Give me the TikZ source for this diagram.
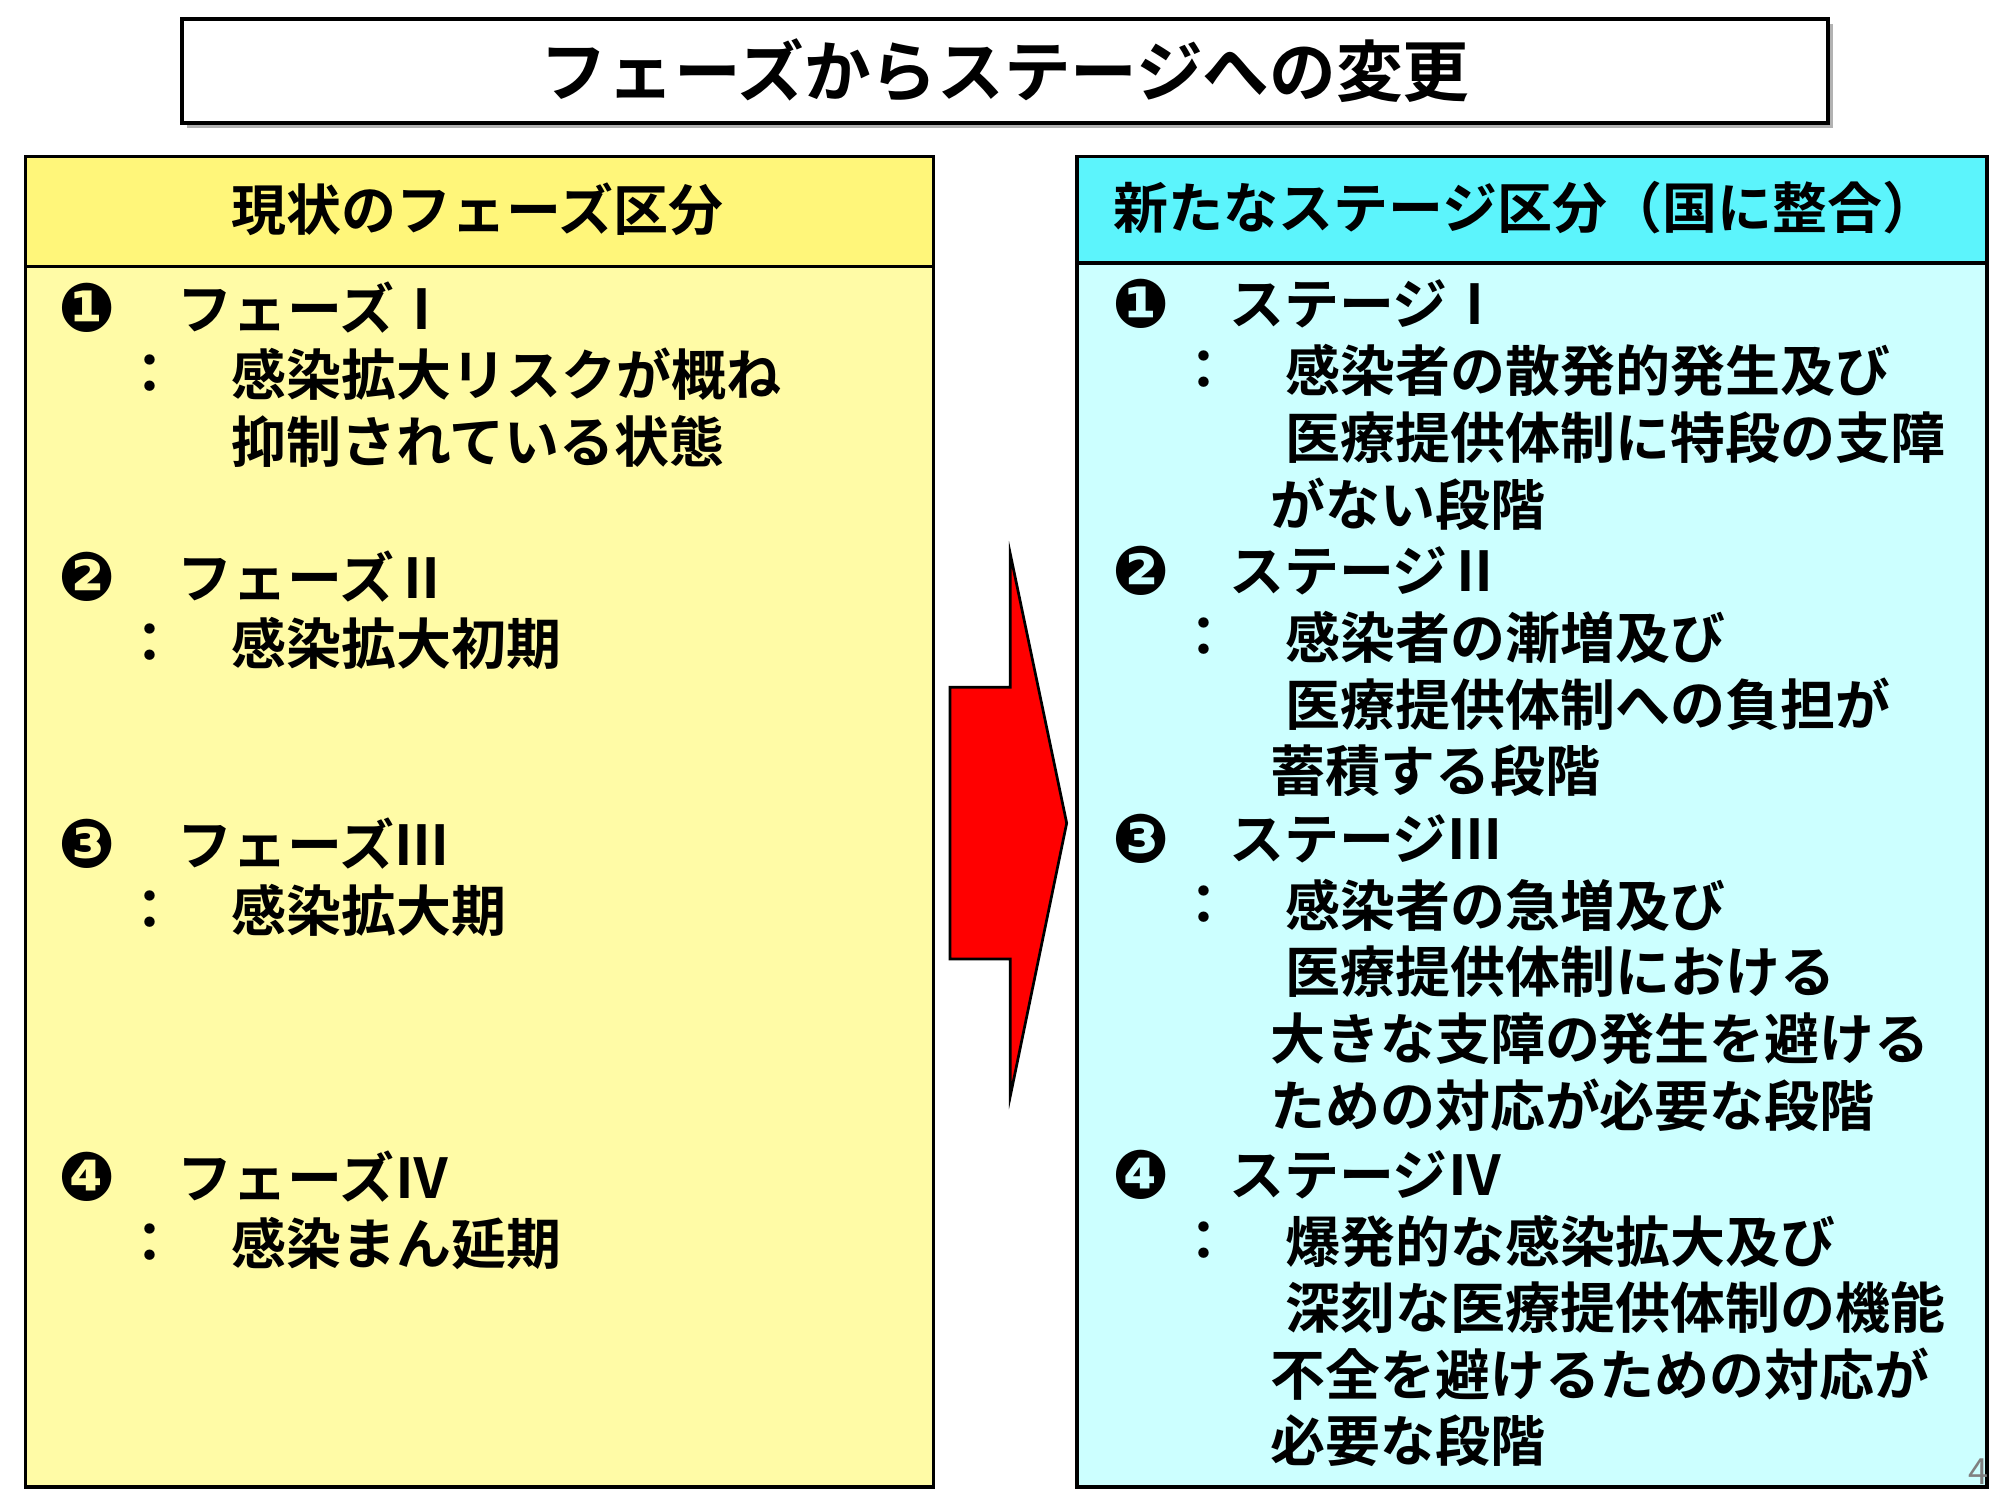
\documentclass[tikz,border=0pt]{standalone}
\usepackage{fontspec}
\setmainfont{Noto Sans CJK JP}[BoldFont={* Bold}]
\newfontfamily\numfont{DejaVu Sans}
\usetikzlibrary{positioning}
\definecolor{headyellow}{HTML}{FFF67A}
\definecolor{bodyyellow}{HTML}{FFFBA6}
\definecolor{headcyan}{HTML}{5CF4FC}
\definecolor{bodycyan}{HTML}{CCFFFF}
\begin{document}
\begin{tikzpicture}[x=1cm,y=1cm,
  txt/.style={anchor=west,inner sep=0pt,font=\fontsize{12.2}{13}\selectfont\bfseries},
  num/.style={anchor=center,inner sep=0pt,font=\fontsize{15}{16}\numfont\bfseries},
  panel/.style={draw=black,line width=0.8pt}]
\useasboundingbox (0,0) rectangle (15.6,-11.7);
% title
\fill[gray!60] (1.46,-0.19) rectangle (14.30,-1.0);
\node[panel,fill=white,minimum width=12.84cm,minimum height=0.81cm,inner sep=0pt] (title) at (7.84,-0.555)
  {\fontsize{14.8}{16}\selectfont\bfseries フェーズからステージへの変更};
% left panel
\fill[bodyyellow] (0.20,-2.08) rectangle (7.28,-11.60);
\fill[headyellow] (0.20,-1.22) rectangle (7.28,-2.08);
\draw[panel] (0.20,-1.22) rectangle (7.28,-11.60);
\draw[panel] (0.20,-2.08) -- (7.28,-2.08);
\node[txt] (lhead) at (1.80,-1.63) {現状のフェーズ区分};
% right panel
\fill[bodycyan] (8.40,-2.05) rectangle (15.50,-11.60);
\fill[headcyan] (8.40,-1.22) rectangle (15.50,-2.05);
\draw[panel] (8.40,-1.22) rectangle (15.50,-11.60);
\draw[panel] (8.40,-2.05) -- (15.50,-2.05);
\node[txt] (rhead) at (8.68,-1.62) {新たなステージ区分（国に整合）};
% arrow
\draw[fill=red,line width=0.6pt] (7.41,-5.36) -- (7.88,-5.36) -- (7.88,-4.32) -- (8.32,-6.42)
  -- (7.88,-8.55) -- (7.88,-7.48) -- (7.41,-7.48) -- cycle;
% left items
\node[num] (l1) at (0.68,-2.40) {❶};
\node[txt] (l1a) at (1.38,-2.40) {フェーズⅠ};
\node[txt] (l1c) at (0.95,-2.92) {：};
\node[txt] (l1b) at (1.80,-2.92) {感染拡大リスクが概ね};
\node[txt] (l1d) at (1.80,-3.44) {抑制されている状態};
\node[num] (l2) at (0.68,-4.50) {❷};
\node[txt] (l2a) at (1.38,-4.50) {フェーズⅡ};
\node[txt] (l2c) at (0.95,-5.02) {：};
\node[txt] (l2b) at (1.80,-5.02) {感染拡大初期};
\node[num] (l3) at (0.68,-6.58) {❸};
\node[txt] (l3a) at (1.38,-6.58) {フェーズⅢ};
\node[txt] (l3c) at (0.95,-7.10) {：};
\node[txt] (l3b) at (1.80,-7.10) {感染拡大期};
\node[num] (l4) at (0.68,-9.18) {❹};
\node[txt] (l4a) at (1.38,-9.18) {フェーズⅣ};
\node[txt] (l4c) at (0.95,-9.70) {：};
\node[txt] (l4b) at (1.80,-9.70) {感染まん延期};
% right items
\node[num] (r1) at (8.90,-2.37) {❶};
\node[txt] (r1a) at (9.58,-2.37) {ステージⅠ};
\node[txt] (r1c) at (9.17,-2.89) {：};
\node[txt] (r1b) at (10.02,-2.89) {感染者の散発的発生及び};
\node[txt] (r1d) at (10.02,-3.41) {医療提供体制に特段の支障};
\node[txt] (r1e) at (9.90,-3.93) {がない段階};
\node[num] (r2) at (8.90,-4.45) {❷};
\node[txt] (r2a) at (9.58,-4.45) {ステージⅡ};
\node[txt] (r2c) at (9.17,-4.97) {：};
\node[txt] (r2b) at (10.02,-4.97) {感染者の漸増及び};
\node[txt] (r2d) at (10.02,-5.49) {医療提供体制への負担が};
\node[txt] (r2e) at (9.90,-6.01) {蓄積する段階};
\node[num] (r3) at (8.90,-6.54) {❸};
\node[txt] (r3a) at (9.58,-6.54) {ステージⅢ};
\node[txt] (r3c) at (9.17,-7.06) {：};
\node[txt] (r3b) at (10.02,-7.06) {感染者の急増及び};
\node[txt] (r3d) at (10.02,-7.58) {医療提供体制における};
\node[txt] (r3e) at (9.90,-8.10) {大きな支障の発生を避ける};
\node[txt] (r3f) at (9.90,-8.62) {ための対応が必要な段階};
\node[num] (r4) at (8.90,-9.16) {❹};
\node[txt] (r4a) at (9.58,-9.16) {ステージⅣ};
\node[txt] (r4c) at (9.17,-9.68) {：};
\node[txt] (r4b) at (10.02,-9.68) {爆発的な感染拡大及び};
\node[txt] (r4d) at (10.02,-10.20) {深刻な医療提供体制の機能};
\node[txt] (r4e) at (9.90,-10.72) {不全を避けるための対応が};
\node[txt] (r4f) at (9.90,-11.24) {必要な段階};
% page number
\node[anchor=center,inner sep=0pt,text=gray,font=\fontsize{8}{9}\selectfont] (page) at (15.43,-11.48) {4};
\end{tikzpicture}
\end{document}
